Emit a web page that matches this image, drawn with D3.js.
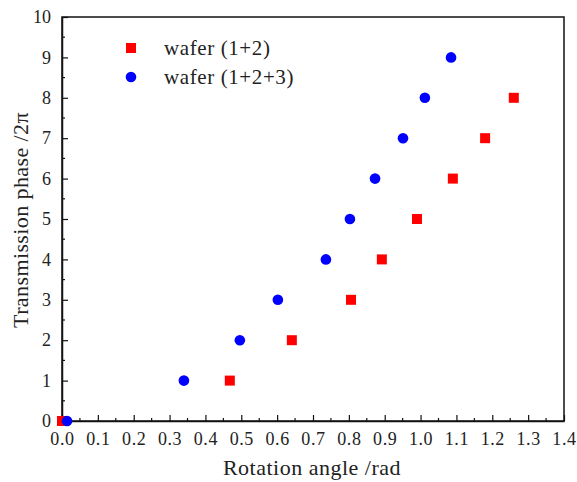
<!DOCTYPE html>
<html>
<head>
<meta charset="utf-8">
<script src="https://cdn.jsdelivr.net/npm/d3@7"></script>
<style>
  body { margin: 0; background: #fff; }
  text { font-family: 'Liberation Serif', 'DejaVu Serif', serif; fill: #222; }
</style>
</head>
<body>
<div id="chart"></div>
<script>
// Data
const waferA_x = [0.0, 0.468, 0.641, 0.806, 0.892, 0.99, 1.09, 1.18, 1.26]
const waferA_y = [0, 1, 2, 3, 4, 5, 6, 7, 8]
const waferB_x = [0.014, 0.34, 0.496, 0.602, 0.736, 0.803, 0.873, 0.951, 1.012, 1.085]
const waferB_y = [0, 1, 2, 3, 4, 5, 6, 7, 8, 9]
const xTicks = [0, 0.1, 0.2, 0.3, 0.4, 0.5, 0.6, 0.7, 0.8, 0.9, 1.0, 1.1, 1.2, 1.3, 1.4]
const yTicks = [0, 1, 2, 3, 4, 5, 6, 7, 8, 9, 10]

const serif = "'Liberation Serif', 'DejaVu Serif', serif"

const margin = { top: 17, left: 62, right: 13, bottom: 61 }
const width = 577 - margin.left - margin.right
const height = 482 - margin.top - margin.bottom

const svg = d3.select('#chart')
  .append('svg')
  .attr('width', 577)
  .attr('height', 482)

const g = svg.append('g')
  .attr('transform', 'translate(' + margin.left + ',' + margin.top + ')')

const xPositionScale = d3.scaleLinear().domain([0, 1.4]).range([0, width])
const yPositionScale = d3.scaleLinear().domain([0, 10]).range([height, 0])

// frame
g.append('rect')
  .attr('width', width)
  .attr('height', height)
  .attr('fill', 'none')
  .attr('stroke', '#111')
  .attr('stroke-width', 1.5)

// minor ticks
const xMinor = d3.range(0, 14).map(i => 0.05 + i * 0.1)
g.selectAll('.x-minor')
  .data(xMinor)
  .enter()
  .append('line')
  .attr('x1', d => xPositionScale(d))
  .attr('x2', d => xPositionScale(d))
  .attr('y1', height)
  .attr('y2', height - 3)
  .attr('stroke', '#111')
  .attr('stroke-width', 1.2)

const yMinor = d3.range(0, 10).map(i => i + 0.5)
g.selectAll('.y-minor')
  .data(yMinor)
  .enter()
  .append('line')
  .attr('x1', 0)
  .attr('x2', 3)
  .attr('y1', d => yPositionScale(d))
  .attr('y2', d => yPositionScale(d))
  .attr('stroke', '#111')
  .attr('stroke-width', 1.2)

const xAxis = d3.axisBottom(xPositionScale)
  .tickValues(xTicks)
  .tickFormat(d3.format('.1f'))
  .tickSizeInner(-6)
  .tickSizeOuter(0)
  .tickPadding(11)
g.append('g')
  .attr('class', 'axis x-axis')
  .attr('transform', 'translate(0,' + height + ')')
  .call(xAxis)

const yAxis = d3.axisLeft(yPositionScale)
  .tickValues(yTicks)
  .tickFormat(d3.format('d'))
  .tickSizeInner(-6)
  .tickSizeOuter(0)
  .tickPadding(11)
g.append('g')
  .attr('class', 'axis y-axis')
  .call(yAxis)

g.selectAll('.axis').attr('font-family', serif).attr('font-size', 18)
g.selectAll('.x-axis text').attr('letter-spacing', 0.6)
g.selectAll('.axis path').attr('stroke', '#111').attr('stroke-width', 1.5)
g.selectAll('.axis line').attr('stroke', '#111').attr('stroke-width', 1.2)
g.selectAll('.axis text').attr('fill', '#222')

// points
const pointsA = waferA_x.map((x, i) => ({ x: x, y: waferA_y[i] }))
const pointsB = waferB_x.map((x, i) => ({ x: x, y: waferB_y[i] }))

const plot = g.append('g')

plot.selectAll('.sq')
  .data(pointsA)
  .enter()
  .append('rect')
  .attr('x', d => xPositionScale(d.x) - 5)
  .attr('y', d => yPositionScale(d.y) - 5)
  .attr('width', 10)
  .attr('height', 10)
  .attr('fill', '#f00')

plot.selectAll('.dot')
  .data(pointsB)
  .enter()
  .append('circle')
  .attr('cx', d => xPositionScale(d.x))
  .attr('cy', d => yPositionScale(d.y))
  .attr('r', 5.3)
  .attr('fill', '#00f')

// legend
const legend = svg.append('g')
legend.append('rect')
  .attr('x', 126).attr('y', 43)
  .attr('width', 10).attr('height', 10)
  .attr('fill', '#f00')
legend.append('text')
  .attr('x', 164).attr('y', 55)
  .attr('font-size', 21)
  .attr('letter-spacing', 0.6)
  .text('wafer (1+2)')
legend.append('circle')
  .attr('cx', 131).attr('cy', 77)
  .attr('r', 5.3)
  .attr('fill', '#00f')
legend.append('text')
  .attr('x', 164).attr('y', 84)
  .attr('font-size', 21)
  .attr('letter-spacing', 0.6)
  .text('wafer (1+2+3)')

// axis titles
svg.append('text')
  .attr('x', 312)
  .attr('y', 475)
  .attr('text-anchor', 'middle')
  .attr('font-size', 22)
  .attr('letter-spacing', 0.5)
  .text('Rotation angle /rad')

svg.append('text')
  .attr('transform', 'translate(28,220) rotate(-90)')
  .attr('text-anchor', 'middle')
  .attr('font-size', 22)
  .attr('letter-spacing', 0.4)
  .text('Transmission phase /2π')
</script>
</body>
</html>
